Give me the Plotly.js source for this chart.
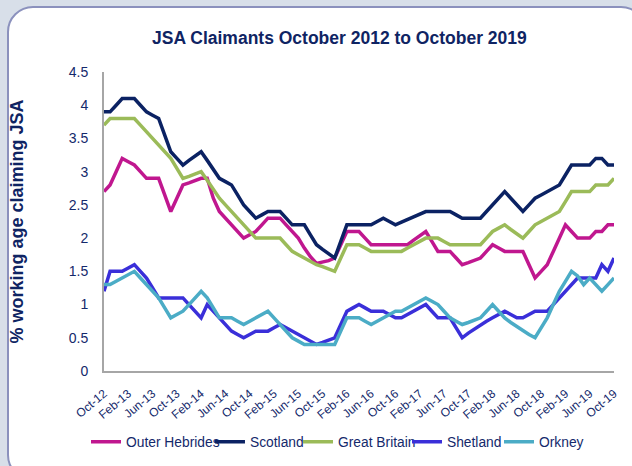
<!DOCTYPE html>
<html>
<head>
<meta charset="utf-8">
<script src="https://cdn.plot.ly/plotly-3.0.1.min.js"></script>
<style>
  html, body { margin: 0; padding: 0; width: 632px; height: 466px; overflow: hidden; background: #d8dfe9; }
  #card { position: absolute; left: 7px; top: 6px; width: 640px; height: 475px; box-sizing: border-box;
          border: 2px solid #8b91bd; border-radius: 26px; background: #ffffff; }
  #chart { position: absolute; left: 0; top: 0; width: 632px; height: 466px; }
</style>
</head>
<body>
<div id="card"></div>
<div id="chart"></div>
<script>
const months = [
  "Oct-12","Nov-12","Dec-12",
  "Jan-13","Feb-13","Mar-13","Apr-13","May-13","Jun-13","Jul-13","Aug-13","Sep-13","Oct-13","Nov-13","Dec-13",
  "Jan-14","Feb-14","Mar-14","Apr-14","May-14","Jun-14","Jul-14","Aug-14","Sep-14","Oct-14","Nov-14","Dec-14",
  "Jan-15","Feb-15","Mar-15","Apr-15","May-15","Jun-15","Jul-15","Aug-15","Sep-15","Oct-15","Nov-15","Dec-15",
  "Jan-16","Feb-16","Mar-16","Apr-16","May-16","Jun-16","Jul-16","Aug-16","Sep-16","Oct-16","Nov-16","Dec-16",
  "Jan-17","Feb-17","Mar-17","Apr-17","May-17","Jun-17","Jul-17","Aug-17","Sep-17","Oct-17","Nov-17","Dec-17",
  "Jan-18","Feb-18","Mar-18","Apr-18","May-18","Jun-18","Jul-18","Aug-18","Sep-18","Oct-18","Nov-18","Dec-18",
  "Jan-19","Feb-19","Mar-19","Apr-19","May-19","Jun-19","Jul-19","Aug-19","Sep-19","Oct-19"
];

const tickLabels = ["Oct-12","Feb-13","Jun-13","Oct-13","Feb-14","Jun-14","Oct-14","Feb-15","Jun-15","Oct-15",
  "Feb-16","Jun-16","Oct-16","Feb-17","Jun-17","Oct-17","Feb-18","Jun-18","Oct-18","Feb-19","Jun-19","Oct-19"];

const outerHebrides = [
  2.7,2.8,3.0,3.2,3.15,3.1,3.0,2.9,2.9,2.9,2.65,2.4,2.6,2.8,2.83,2.87,2.9,2.9,2.6,2.4,
  2.3,2.2,2.1,2.0,2.05,2.1,2.2,2.3,2.3,2.3,2.2,2.1,2.0,1.85,1.72,1.62,1.64,1.66,1.7,1.9,
  2.1,2.1,2.1,2.0,1.9,1.9,1.9,1.9,1.9,1.9,1.9,1.97,2.03,2.1,1.95,1.8,1.8,1.8,1.7,1.6,
  1.63,1.67,1.7,1.8,1.9,1.85,1.8,1.8,1.8,1.8,1.6,1.4,1.5,1.6,1.8,2.0,2.2,2.1,2.0,2.0,
  2.0,2.1,2.1,2.2,2.2
];

const scotland = [
  3.9,3.9,4.0,4.1,4.1,4.1,4.0,3.9,3.85,3.8,3.55,3.3,3.2,3.1,3.17,3.23,3.3,3.17,3.03,2.9,
  2.85,2.8,2.65,2.5,2.4,2.3,2.35,2.4,2.4,2.4,2.3,2.2,2.2,2.2,2.05,1.9,1.83,1.76,1.7,1.95,
  2.2,2.2,2.2,2.2,2.2,2.25,2.3,2.25,2.2,2.24,2.28,2.32,2.36,2.4,2.4,2.4,2.4,2.4,2.35,2.3,
  2.3,2.3,2.3,2.4,2.5,2.6,2.7,2.6,2.5,2.4,2.5,2.6,2.65,2.7,2.75,2.8,2.95,3.1,3.1,3.1,
  3.1,3.2,3.2,3.1,3.1
];

const greatBritain = [
  3.7,3.8,3.8,3.8,3.8,3.8,3.7,3.6,3.5,3.4,3.3,3.2,3.05,2.9,2.93,2.97,3.0,2.87,2.73,2.6,
  2.5,2.4,2.3,2.2,2.1,2.0,2.0,2.0,2.0,2.0,1.9,1.8,1.75,1.7,1.65,1.6,1.57,1.53,1.5,1.7,
  1.9,1.9,1.9,1.85,1.8,1.8,1.8,1.8,1.8,1.8,1.85,1.9,1.95,2.0,2.0,2.0,1.95,1.9,1.9,1.9,
  1.9,1.9,1.9,2.0,2.1,2.15,2.2,2.13,2.07,2.0,2.1,2.2,2.25,2.3,2.35,2.4,2.55,2.7,2.7,2.7,
  2.7,2.8,2.8,2.8,2.9
];

const shetland = [
  1.2,1.5,1.5,1.5,1.55,1.6,1.5,1.4,1.25,1.1,1.1,1.1,1.1,1.1,1.0,0.9,0.8,1.0,0.9,0.8,
  0.7,0.6,0.55,0.5,0.55,0.6,0.6,0.6,0.65,0.7,0.65,0.6,0.55,0.5,0.45,0.4,0.43,0.47,0.5,0.7,
  0.9,0.95,1.0,0.95,0.9,0.9,0.9,0.85,0.8,0.8,0.85,0.9,0.95,1.0,0.9,0.8,0.8,0.8,0.65,0.5,
  0.57,0.63,0.7,0.75,0.8,0.85,0.9,0.85,0.8,0.8,0.85,0.9,0.9,0.9,1.0,1.1,1.2,1.3,1.4,1.4,
  1.4,1.4,1.6,1.5,1.7
];

const orkney = [
  1.3,1.3,1.35,1.4,1.45,1.5,1.4,1.3,1.2,1.1,0.95,0.8,0.85,0.9,1.0,1.1,1.2,1.1,0.95,0.8,
  0.8,0.8,0.75,0.7,0.75,0.8,0.85,0.9,0.8,0.7,0.6,0.5,0.45,0.4,0.4,0.4,0.4,0.4,0.4,0.6,
  0.8,0.8,0.8,0.75,0.7,0.75,0.8,0.85,0.9,0.9,0.95,1.0,1.05,1.1,1.05,1.0,0.9,0.8,0.75,0.7,
  0.73,0.77,0.8,0.9,1.0,0.9,0.8,0.73,0.67,0.6,0.55,0.5,0.65,0.8,1.0,1.2,1.35,1.5,1.43,1.3,
  1.4,1.3,1.2,1.3,1.4
];

const seriesNames = ["Outer Hebrides","Scotland","Great Britain","Shetland","Orkney"];
const seriesData = [outerHebrides, scotland, greatBritain, shetland, orkney];
const seriesColors = ["#c0178f","#0b2263","#9bbb59","#3a2fd9","#4bacc6"];
const legendIds = ["legend","legend2","legend3","legend4","legend5"];
const legendX = [-0.0353, 0.2078, 0.3804, 0.5941, 0.7745];

const navy = "#14296b";

const traces = seriesNames.map((name, k) => ({
  type: "scatter",
  mode: "lines",
  name: name,
  x: months,
  y: seriesData[k],
  legend: legendIds[k],
  line: { color: seriesColors[k], width: 3.5, shape: "linear" },
  hoverinfo: "x+y+name"
}));

const layout = {
  width: 632,
  height: 466,
  margin: { l: 104, r: 18, t: 72, b: 95, autoexpand: false },
  paper_bgcolor: "rgba(0,0,0,0)",
  plot_bgcolor: "rgba(0,0,0,0)",
  font: { family: "Liberation Sans, Arial, sans-serif", color: navy },
  title: {
    text: "<b>JSA Claimants October 2012 to October 2019</b>",
    font: { family: "Liberation Sans, Arial, sans-serif", size: 17.5, color: "#0f2463" },
    x: 0.537, xanchor: "center", y: 0.918, yanchor: "middle"
  },
  xaxis: {
    type: "category",
    range: [0, 84],
    tickmode: "array",
    tickvals: tickLabels,
    ticktext: tickLabels,
    tickangle: -40,
    tickfont: { size: 12, color: navy },
    ticklabelstandoff: 9,
    showgrid: false,
    zeroline: false,
    showline: true,
    linecolor: "#a6a6a6",
    linewidth: 2,
    ticks: "",
    automargin: false,
    fixedrange: true
  },
  yaxis: {
    range: [0, 4.5],
    dtick: 0.5,
    tick0: 0,
    tickfont: { size: 14, color: navy },
    ticklabelstandoff: 11,
    showgrid: false,
    zeroline: false,
    showline: true,
    linecolor: "#a6a6a6",
    linewidth: 2,
    ticks: "",
    automargin: false,
    title: {
      text: "<b>% working age claiming JSA</b>",
      font: { size: 18, color: "#0f2463" },
      standoff: 40
    },
    fixedrange: true
  },
  showlegend: true
};

legendIds.forEach((id, k) => {
  layout[id] = {
    orientation: "h",
    x: legendX[k], xanchor: "left",
    y: -0.185, yanchor: "top",
    font: { size: 13.8, color: navy },
    itemwidth: 30,
    bgcolor: "rgba(0,0,0,0)"
  };
});

Plotly.newPlot("chart", traces, layout, { displayModeBar: false, staticPlot: true });
</script>
</body>
</html>
